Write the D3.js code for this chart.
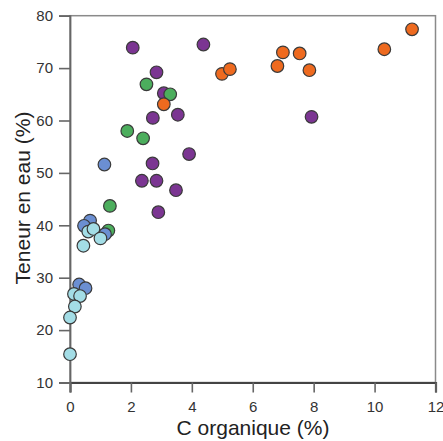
<!DOCTYPE html>
<html><head><meta charset="utf-8">
<script src="https://cdn.jsdelivr.net/npm/d3@7"></script>
<style>html,body{margin:0;padding:0;background:#fff;}svg{display:block;}</style>
</head><body>
<script>
const xTicks = [0, 2, 4, 6, 8, 10, 12];
const xMinor = [1, 3, 5, 7, 9, 11];
const yTicks = [10, 20, 30, 40, 50, 60, 70, 80];
const yMinor = [15, 25, 35, 45, 55, 65, 75];
const xTitle = "C organique (%)";
const yTitle = "Teneur en eau (%)";

const purpleX = [2.06, 4.38, 2.84, 3.08, 2.72, 3.54, 3.91, 2.71, 2.84, 3.48, 2.90, 2.36, 7.93];
const purpleY = [73.9, 74.5, 69.2, 65.2, 60.5, 61.1, 53.6, 51.8, 48.5, 46.7, 42.5, 48.5, 60.7];
const greenX = [2.51, 3.29, 1.88, 2.40, 1.31, 1.26];
const greenY = [66.9, 65.0, 58.0, 56.6, 43.7, 39.0];
const orangeX = [3.08, 4.99, 5.25, 6.81, 6.99, 7.54, 7.86, 10.32, 11.23];
const orangeY = [63.1, 68.9, 69.8, 70.4, 73.0, 72.8, 69.6, 73.6, 77.4];
const blueX = [1.13, 0.66, 0.46, 1.15, 0.30, 0.51];
const blueY = [51.6, 40.9, 39.9, 38.3, 28.7, 28.0];
const cyanX = [0.60, 0.77, 1.00, 0.44, 0.13, 0.33, 0.16, 0.00, 0.00];
const cyanY = [38.8, 39.3, 37.5, 36.1, 26.9, 26.5, 24.5, 22.4, 15.4];

const groups = [
  {xs: purpleX, ys: purpleY, color: "#7b3592"},
  {xs: greenX, ys: greenY, color: "#4cae5d"},
  {xs: orangeX, ys: orangeY, color: "#ee6a1f"},
  {xs: blueX, ys: blueY, color: "#6b8fd2"},
  {xs: cyanX, ys: cyanY, color: "#a3dde6"}
];

const W = 443, H = 441;
const svg = d3.select("body").append("svg").attr("width", W).attr("height", H);
const x = d3.scaleLinear().domain([0, 12]).range([70, 435.5]);
const y = d3.scaleLinear().domain([10, 80]).range([382.5, 15.7]);

// frame
svg.append("rect").attr("x", x(0)).attr("y", y(80))
  .attr("width", x(12) - x(0)).attr("height", y(10) - y(80))
  .attr("fill", "none").attr("stroke", "#8a8a8a").attr("stroke-width", 1.5);

const fontFam = "'Liberation Sans', Arial, sans-serif";

// x axis
const gx = svg.append("g").attr("transform", `translate(0,${y(10)})`);
gx.call(d3.axisBottom(x).tickValues(xMinor).tickSize(5).tickFormat(""));
gx.call(d3.axisBottom(x).tickValues(xTicks).tickSize(10).tickPadding(9).tickFormat(d3.format("d")));
gx.selectAll(".domain").attr("stroke", "#444").attr("stroke-width", 2.2);
gx.selectAll(".tick line").attr("stroke", "#666").attr("stroke-width", 1.6);
gx.selectAll(".tick text").attr("fill", "#333").attr("font-size", 15).attr("font-family", fontFam);

// y axis
const gy = svg.append("g").attr("transform", `translate(${x(0)},0)`);
gy.call(d3.axisLeft(y).tickValues(yMinor).tickSize(6).tickFormat(""));
gy.call(d3.axisLeft(y).tickValues(yTicks).tickSize(11).tickPadding(6).tickFormat(d3.format("d")));
gy.selectAll(".domain").attr("stroke", "#666").attr("stroke-width", 1.8);
gy.selectAll(".tick line").attr("stroke", "#666").attr("stroke-width", 1.6);
gy.selectAll(".tick text").attr("fill", "#333").attr("font-size", 15).attr("font-family", fontFam);

// points
groups.forEach(g => {
  const pts = g.xs.map((v, i) => [v, g.ys[i]]);
  svg.append("g").selectAll("circle").data(pts).join("circle")
    .attr("cx", d => x(d[0])).attr("cy", d => y(d[1])).attr("r", 6.3)
    .attr("fill", g.color).attr("stroke", "#3a3a3a").attr("stroke-width", 1.2);
});

// titles
svg.append("text").attr("x", 253).attr("y", 434.5).attr("text-anchor", "middle")
  .attr("font-size", 21).attr("font-family", fontFam).attr("fill", "#222").text(xTitle);
svg.append("text").attr("transform", "translate(30,198) rotate(-90)").attr("text-anchor", "middle")
  .attr("font-size", 21).attr("font-family", fontFam).attr("fill", "#222").text(yTitle);
</script>
</body></html>
